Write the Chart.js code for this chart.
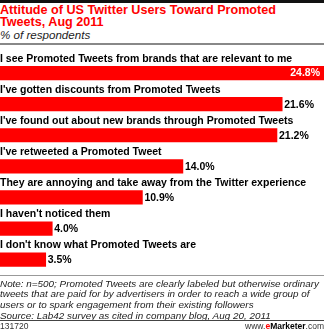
<!DOCTYPE html>
<html lang="en">
<head>
    <meta charset="UTF-8">
    <title>Attitude of US Twitter Users Toward Promoted Tweets, Aug 2011</title>
    <script src="https://cdn.jsdelivr.net/npm/chart.js"></script>
    <style>
        html, body {
            margin: 0;
            padding: 0;
            background: #fff;
        }
        body {
            width: 324px;
            height: 333px;
            position: relative;
            overflow: hidden;
            font-family: 'Liberation Sans', Arial, sans-serif;
        }
        .abs { position: absolute; left: 0; }
        .topbar { top: 0; width: 324px; height: 3px; background: #111; }
        .title {
            top: 4px;
            font-size: 12.6px;
            line-height: 12.3px;
            font-weight: bold;
            color: #f00;
            white-space: nowrap;
        }
        .subtitle {
            top: 28.5px;
            font-size: 11.6px;
            line-height: 12px;
            font-style: italic;
            color: #222;
        }
        .rule1 { top: 43px; width: 324px; height: 2px; background: #888; }
        .chart-box { top: 44px; width: 324px; height: 232px; }
        .rule2 { top: 275px; width: 324px; height: 1px; background: #999; }
        .note {
            top: 278.5px;
            font-size: 9.9px;
            line-height: 10.7px;
            font-style: italic;
            color: #222;
            white-space: nowrap;
        }
        .rule3 { top: 320px; width: 324px; height: 1px; background: #444; }
        .code {
            top: 321px;
            font-size: 8.5px;
            line-height: 11px;
            color: #333;
        }
        .brand {
            top: 321px;
            left: auto;
            right: 0;
            font-size: 8.5px;
            line-height: 11px;
            color: #333;
        }
        .brand b { color: #000; }
        .brand .e { color: #f00; }
    </style>
</head>
<body>
    <div class="abs topbar"></div>
    <div class="abs title">Attitude of US Twitter Users Toward Promoted<br>Tweets, Aug 2011</div>
    <div class="abs subtitle">% of respondents</div>
    <div class="abs rule1"></div>

    <div class="abs chart-box">
        <canvas id="barChart" width="324" height="232"></canvas>
    </div>

    <div class="abs rule2"></div>
    <div class="abs note">Note: n=500; Promoted Tweets are clearly labeled but otherwise ordinary<br>tweets that are paid for by advertisers in order to reach a wide group of<br>users or to spark engagement from their existing followers<br>Source: Lab42 survey as cited in company blog, Aug 20, 2011</div>
    <div class="abs rule3"></div>
    <div class="abs code">131720</div>
    <div class="abs brand">www.<b><span class="e">e</span>Marketer</b>.com</div>

    <script>
        const categories = [
            'I see Promoted Tweets from brands that are relevant to me',
            "I've gotten discounts from Promoted Tweets",
            "I've found out about new brands through Promoted Tweets",
            "I've retweeted a Promoted Tweet",
            'They are annoying and take away from the Twitter experience',
            "I haven't noticed them",
            "I don't know what Promoted Tweets are"
        ];
        const shares = [24.8, 21.6, 21.2, 14.0, 10.9, 4.0, 3.5];

        const labelFont = "bold 10.5px 'Liberation Sans', Arial, sans-serif";

        // category text above each bar, value text at its end
        const barLabels = {
            id: 'barLabels',
            afterDatasetsDraw(chart) {
                const ctx = chart.ctx;
                const meta = chart.getDatasetMeta(0);
                ctx.save();
                ctx.font = labelFont;
                meta.data.forEach((bar, i) => {
                    const top = bar.y - bar.height / 2;
                    ctx.fillStyle = '#000';
                    ctx.textAlign = 'left';
                    ctx.textBaseline = 'alphabetic';
                    ctx.fillText(categories[i], 0, top - 4.5);

                    const txt = shares[i].toFixed(1) + '%';
                    const w = ctx.measureText(txt).width;
                    ctx.textBaseline = 'middle';
                    if (bar.x + 3 + w > chart.width) {
                        ctx.fillStyle = '#fff';
                        ctx.textAlign = 'right';
                        ctx.fillText(txt, bar.x - 4, bar.y + 0.5);
                    } else {
                        ctx.fillStyle = '#000';
                        ctx.textAlign = 'left';
                        ctx.fillText(txt, bar.x + 2, bar.y + 0.5);
                    }
                });
                ctx.restore();
            }
        };

        new Chart(document.getElementById('barChart'), {
            type: 'bar',
            data: {
                labels: categories,
                datasets: [{
                    data: shares,
                    backgroundColor: '#ff0000',
                    borderWidth: 0,
                    barThickness: 13.5
                }]
            },
            options: {
                indexAxis: 'y',
                responsive: false,
                animation: false,
                layout: {
                    padding: { top: 13.5, bottom: 0.8, left: 0, right: 0 }
                },
                scales: {
                    x: { display: false, min: 0, max: 24.8 },
                    y: { display: false }
                },
                plugins: {
                    legend: { display: false },
                    tooltip: { enabled: false }
                }
            },
            plugins: [barLabels]
        });
    </script>
</body>
</html>
